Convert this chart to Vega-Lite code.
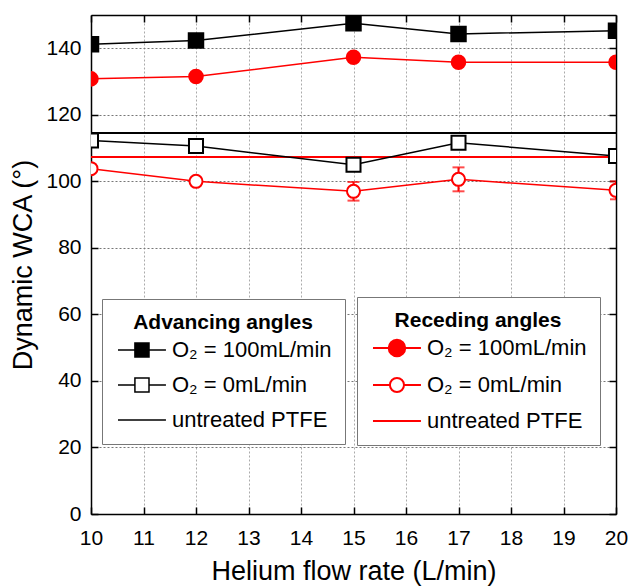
{
  "$schema": "https://vega.github.io/schema/vega-lite/v6.json",
  "width": 525,
  "height": 499,
  "autosize": {"type": "none"},
  "padding": {"left": 91, "top": 15, "right": 12, "bottom": 72},
  "background": "white",
  "config": {
    "view": {"stroke": null},
    "font": "Liberation Sans",
    "axis": {
      "labelFont": "Liberation Sans",
      "titleFont": "Liberation Sans",
      "labelColor": "black",
      "titleColor": "black",
      "domainColor": "black",
      "tickColor": "black",
      "domainWidth": 1.5,
      "tickWidth": 1.5,
      "tickSize": -7,
      "labelFontSize": 21,
      "titleFontSize": 27,
      "titleFontWeight": "normal",
      "labelFlush": false,
      "labelOverlap": false
    },
    "legend": {
      "orient": "none",
      "titleFont": "Liberation Sans", "titleFontSize": 21, "titleFontWeight": "bold", "titleColor": "black", "titleAnchor": "middle", "titlePadding": 5,
      "labelFont": "Liberation Sans", "labelFontSize": 22, "labelColor": "black", "labelOffset": 33, "labelLimit": 300,
      "symbolSize": 484, "symbolOpacity": 1, "rowPadding": 12,
      "padding": 13, "strokeColor": "#777777", "fillColor": "white"
    }
  },
  "datasets": {
    "pts": [
      {"he": 10, "wca": 141.2, "s": "adv100"},
      {"he": 12, "wca": 142.3, "s": "adv100"},
      {"he": 15, "wca": 147.5, "s": "adv100"},
      {"he": 17, "wca": 144.3, "s": "adv100"},
      {"he": 20, "wca": 145.3, "s": "adv100"},
      {"he": 10, "wca": 112.3, "s": "adv0"},
      {"he": 12, "wca": 110.6, "s": "adv0"},
      {"he": 15, "wca": 105.0, "s": "adv0"},
      {"he": 17, "wca": 111.6, "s": "adv0"},
      {"he": 20, "wca": 107.6, "s": "adv0"},
      {"he": 10, "wca": 130.8, "s": "rec100"},
      {"he": 12, "wca": 131.5, "s": "rec100"},
      {"he": 15, "wca": 137.3, "s": "rec100"},
      {"he": 17, "wca": 135.8, "s": "rec100"},
      {"he": 20, "wca": 135.8, "s": "rec100"},
      {"he": 10, "wca": 103.8, "s": "rec0"},
      {"he": 12, "wca": 100.0, "s": "rec0"},
      {"he": 15, "wca": 97.0, "s": "rec0", "lo": 94.2, "hi": 99.8},
      {"he": 17, "wca": 100.6, "s": "rec0", "lo": 97.0, "hi": 104.2},
      {"he": 20, "wca": 97.3, "s": "rec0", "lo": 94.6, "hi": 100.0}
    ],
    "ptfe": [
      {"s": "adv", "wca": 114.5},
      {"s": "rec", "wca": 107.3}
    ],
    "leg": [
      {"lab": "O₂ = 100mL/min"},
      {"lab": "O₂ = 0mL/min"},
      {"lab": "untreated PTFE"}
    ]
  },
  "layer": [
    {
      "data": {"name": "ptfe"},
      "mark": {"type": "rule", "strokeWidth": 2},
      "encoding": {
        "y": {"field": "wca", "type": "quantitative", "scale": {"domain": [0, 150], "nice": false}, "axis": null},
        "color": {"field": "s", "type": "nominal", "scale": {"domain": ["adv", "rec"], "range": ["black", "#ff0000"]}, "legend": null}
      }
    },
    {
      "data": {"name": "pts"},
      "mark": {"type": "line", "clip": true},
      "encoding": {
        "x": {"field": "he", "type": "quantitative", "scale": {"domain": [10, 20], "nice": false}, "axis": null},
        "y": {"field": "wca", "type": "quantitative", "scale": {"domain": [0, 150], "nice": false}, "axis": null},
        "detail": {"field": "s"},
        "stroke": {"field": "s", "type": "nominal", "scale": {"domain": ["adv100", "adv0", "rec100", "rec0"], "range": ["black", "black", "#ff0000", "#ff0000"]}, "legend": null},
        "strokeWidth": {"field": "s", "type": "nominal", "scale": {"domain": ["adv100", "adv0", "rec100", "rec0"], "range": [1.5, 1.5, 2.5, 2.5]}, "legend": null}
      }
    },
    {
      "data": {"name": "pts"},
      "transform": [{"filter": "isValid(datum.lo)"}],
      "mark": {"type": "rule", "color": "#ff0000", "strokeWidth": 2, "clip": true},
      "encoding": {
        "x": {"field": "he", "type": "quantitative", "axis": null},
        "y": {"field": "lo", "type": "quantitative", "axis": null},
        "y2": {"field": "hi"}
      }
    },
    {
      "data": {"name": "pts"},
      "transform": [{"filter": "isValid(datum.lo)"}],
      "mark": {"type": "tick", "orient": "horizontal", "color": "#ff0000", "size": 12, "thickness": 2, "clip": true},
      "encoding": {
        "x": {"field": "he", "type": "quantitative", "axis": null},
        "y": {"field": "lo", "type": "quantitative", "axis": null}
      }
    },
    {
      "data": {"name": "pts"},
      "transform": [{"filter": "isValid(datum.hi)"}],
      "mark": {"type": "tick", "orient": "horizontal", "color": "#ff0000", "size": 12, "thickness": 2, "clip": true},
      "encoding": {
        "x": {"field": "he", "type": "quantitative", "axis": null},
        "y": {"field": "hi", "type": "quantitative", "axis": null}
      }
    },
    {
      "data": {"name": "pts"},
      "mark": {"type": "point", "opacity": 1, "strokeWidth": 2, "clip": true},
      "encoding": {
        "x": {
          "field": "he", "type": "quantitative",
          "scale": {"domain": [10, 20], "nice": false},
          "axis": {
            "orient": "bottom",
            "values": [10, 11, 12, 13, 14, 15, 16, 17, 18, 19, 20],
            "title": "Helium flow rate (L/min)",
            "grid": true, "gridDash": [2, 2], "gridColor": "#aaaaaa", "gridWidth": 1,
            "labelPadding": 20, "titlePadding": 10
          }
        },
        "y": {
          "field": "wca", "type": "quantitative",
          "scale": {"domain": [0, 150], "nice": false},
          "axis": {
            "orient": "left",
            "values": [0, 20, 40, 60, 80, 100, 120, 140],
            "title": "Dynamic WCA (°)",
            "grid": true, "gridDash": [2, 2], "gridColor": "#777777", "gridWidth": 1,
            "labelPadding": 17, "titlePadding": 8
          }
        },
        "shape": {"field": "s", "type": "nominal", "scale": {"domain": ["adv100", "adv0", "rec100", "rec0"], "range": ["square", "square", "circle", "circle"]}, "legend": null},
        "fill": {"field": "s", "type": "nominal", "scale": {"domain": ["adv100", "adv0", "rec100", "rec0"], "range": ["black", "white", "#ff0000", "white"]}, "legend": null},
        "stroke": {"field": "s", "type": "nominal", "scale": {"domain": ["adv100", "adv0", "rec100", "rec0"], "range": ["black", "black", "#ff0000", "#ff0000"]}, "legend": null},
        "size": {"field": "s", "type": "nominal", "scale": {"domain": ["adv100", "adv0", "rec100", "rec0"], "range": [210, 170, 280, 210]}, "legend": null}
      }
    },
    {
      "data": {"name": "leg"},
      "mark": {"type": "point", "size": 0, "strokeWidth": 1.5, "opacity": 1},
      "encoding": {
        "shape": {
          "field": "lab", "type": "nominal",
          "scale": {
            "domain": ["O₂ = 100mL/min", "O₂ = 0mL/min", "untreated PTFE"],
            "range": [
              "M-0.82,0L0.72,0M2,0L3.54,0M0.72,-0.64L2,-0.64L2,0.64L0.72,0.64Z",
              "M-0.82,0L0.72,0M2,0L3.54,0M0.72,-0.64L2,-0.64L2,0.64L0.72,0.64Z",
              "M-0.82,0L3.54,0"
            ]
          },
          "legend": {"title": "Advancing angles", "legendX": 11, "legendY": 284, "symbolStrokeWidth": 1.5}
        },
        "fill": {
          "field": "lab", "type": "nominal",
          "scale": {"domain": ["O₂ = 100mL/min", "O₂ = 0mL/min", "untreated PTFE"], "range": ["black", "white", "white"]},
          "legend": {"title": "Advancing angles", "legendX": 11, "legendY": 284, "symbolStrokeWidth": 1.5}
        },
        "stroke": {
          "field": "lab", "type": "nominal",
          "scale": {"domain": ["O₂ = 100mL/min", "O₂ = 0mL/min", "untreated PTFE"], "range": ["black", "black", "black"]},
          "legend": {"title": "Advancing angles", "legendX": 11, "legendY": 284, "symbolStrokeWidth": 1.5}
        }
      }
    },
    {
      "data": {"name": "leg"},
      "mark": {"type": "point", "size": 0, "strokeWidth": 2, "opacity": 1},
      "encoding": {
        "shape": {
          "field": "lab", "type": "nominal",
          "scale": {
            "domain": ["O₂ = 100mL/min", "O₂ = 0mL/min", "untreated PTFE"],
            "range": [
              "M-0.82,0L0.61,0M2.11,0L3.54,0M0.61,0A0.75,0.75,0,1,1,2.11,0A0.75,0.75,0,1,1,0.61,0Z",
              "M-0.82,0L0.72,0M2,0L3.54,0M0.72,0A0.64,0.64,0,1,1,2,0A0.64,0.64,0,1,1,0.72,0Z",
              "M-0.82,0L3.54,0"
            ]
          },
          "legend": {"title": "Receding angles", "legendX": 266, "legendY": 282, "symbolStrokeWidth": 2}
        },
        "fill": {
          "field": "lab", "type": "nominal",
          "scale": {"domain": ["O₂ = 100mL/min", "O₂ = 0mL/min", "untreated PTFE"], "range": ["#ff0000", "white", "white"]},
          "legend": {"title": "Receding angles", "legendX": 266, "legendY": 282, "symbolStrokeWidth": 2}
        },
        "stroke": {
          "field": "lab", "type": "nominal",
          "scale": {"domain": ["O₂ = 100mL/min", "O₂ = 0mL/min", "untreated PTFE"], "range": ["#ff0000", "#ff0000", "#ff0000"]},
          "legend": {"title": "Receding angles", "legendX": 266, "legendY": 282, "symbolStrokeWidth": 2}
        }
      }
    },
    {
      "data": {"name": "pts"},
      "mark": {"type": "point", "opacity": 0},
      "encoding": {
        "x": {
          "field": "he", "type": "quantitative",
          "scale": {"domain": [10, 20], "nice": false},
          "axis": {"orient": "top", "values": [10, 11, 12, 13, 14, 15, 16, 17, 18, 19, 20], "labels": false, "title": null, "grid": false}
        },
        "y": {
          "field": "wca", "type": "quantitative",
          "scale": {"domain": [0, 150], "nice": false},
          "axis": {"orient": "right", "values": [0, 20, 40, 60, 80, 100, 120, 140], "labels": false, "title": null, "grid": false}
        }
      }
    }
  ],
  "resolve": {
    "scale": {"shape": "independent", "fill": "independent", "stroke": "independent"},
    "axis": {"x": "independent", "y": "independent"}
  }
}
